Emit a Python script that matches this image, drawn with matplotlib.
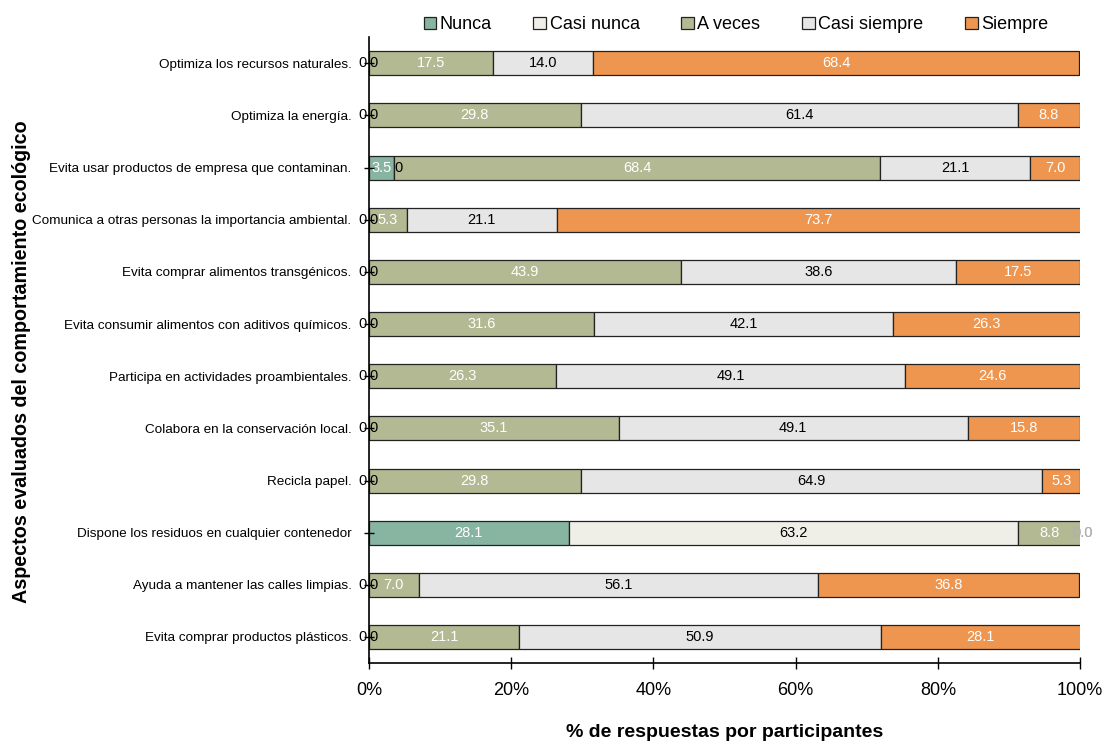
import matplotlib.pyplot as plt
from matplotlib.ticker import PercentFormatter

plt.rcParams["font.family"] = ["Liberation Sans", "DejaVu Sans"]

aspectos = [
    "Optimiza los recursos naturales.",
    "Optimiza la energía.",
    "Evita usar productos de empresa que contaminan.",
    "Comunica a otras personas la importancia ambiental.",
    "Evita comprar alimentos transgénicos.",
    "Evita consumir alimentos con aditivos químicos.",
    "Participa en actividades proambientales.",
    "Colabora en la conservación local.",
    "Recicla papel.",
    "Dispone los residuos en cualquier contenedor",
    "Ayuda a mantener las calles limpias.",
    "Evita comprar productos plásticos.",
]
nunca = [0, 0, 3.5, 0, 0, 0, 0, 0, 0, 28.1, 0, 0]
casi_nunca = [0, 0, 0, 0, 0, 0, 0, 0, 0, 63.2, 0, 0]
a_veces = [17.5, 29.8, 68.4, 5.3, 43.9, 31.6, 26.3, 35.1, 29.8, 8.8, 7.0, 21.1]
casi_siempre = [14.0, 61.4, 21.1, 21.1, 38.6, 42.1, 49.1, 49.1, 64.9, 0, 56.1, 50.9]
siempre = [68.4, 8.8, 7.0, 73.7, 17.5, 26.3, 24.6, 15.8, 5.3, 0, 36.8, 28.1]

series = [
    ("Nunca", nunca, "#88b5a1", "white"),
    ("Casi nunca", casi_nunca, "#f0efe7", "black"),
    ("A veces", a_veces, "#b2b993", "white"),
    ("Casi siempre", casi_siempre, "#e6e6e6", "black"),
    ("Siempre", siempre, "#ee964f", "white"),
]

fig = plt.figure(figsize=(11.06, 7.45), dpi=100)
ax = fig.add_axes([0.3336, 0.11, 0.643, 0.84])

y = list(range(len(aspectos)))
left = [0.0] * len(aspectos)
for k, (name, vals, color, tcolor) in enumerate(series):
    ax.barh(y, vals, left=left, height=0.46, color=color, edgecolor="#222222",
            linewidth=0.9, label=name)
    for i, v in enumerate(vals):
        if v > 0:
            ax.text(left[i] + v / 2, i, f"{v:.1f}", ha="center", va="center",
                    color=tcolor, fontsize=10.5)
        elif k == 0:
            ax.annotate("0", (left[i], i), xytext=(-5, 0), textcoords="offset points",
                        ha="center", va="center", fontsize=10.5, annotation_clip=False)
        elif k == 1:
            ax.annotate("0", (left[i], i), xytext=(3, 0), textcoords="offset points",
                        ha="center", va="center", fontsize=10.5, annotation_clip=False)
        else:
            ax.annotate("0.0", (left[i], i), xytext=(1, 0), textcoords="offset points",
                        ha="center", va="center", fontsize=10.5, color="#b0b0b0",
                        annotation_clip=False)
    left = [a + b for a, b in zip(left, vals)]

ax.set_xlim(0, 100)
ax.set_ylim(11.5, -0.5)
ax.set_yticks(y)
ax.set_yticklabels(aspectos, fontsize=9.7)
ax.set_xticks([0, 20, 40, 60, 80, 100])
ax.xaxis.set_major_formatter(PercentFormatter(decimals=0))
ax.tick_params(axis="x", labelsize=13, length=8, width=1, direction="inout", pad=10)
ax.tick_params(axis="y", length=7, width=1, direction="inout", pad=9)

for s in ["top", "right"]:
    ax.spines[s].set_visible(False)
for s in ["left", "bottom"]:
    ax.spines[s].set_linewidth(1.2)
    ax.spines[s].set_color("black")

ax.set_xlabel("% de respuestas por participantes", fontsize=14, fontweight="bold", labelpad=18)
fig.text(0.019, 0.514, "Aspectos evaluados del comportamiento ecológico", rotation=90,
         ha="center", va="center", fontsize=14.2, fontweight="bold")

ax.legend(loc="center", bbox_to_anchor=(0.516, 1.02), ncol=5, frameon=False,
          fontsize=13, handlelength=0.7, handleheight=0.7, handletextpad=0.2,
          columnspacing=2.3)

fig.savefig("out.png", dpi=100)
